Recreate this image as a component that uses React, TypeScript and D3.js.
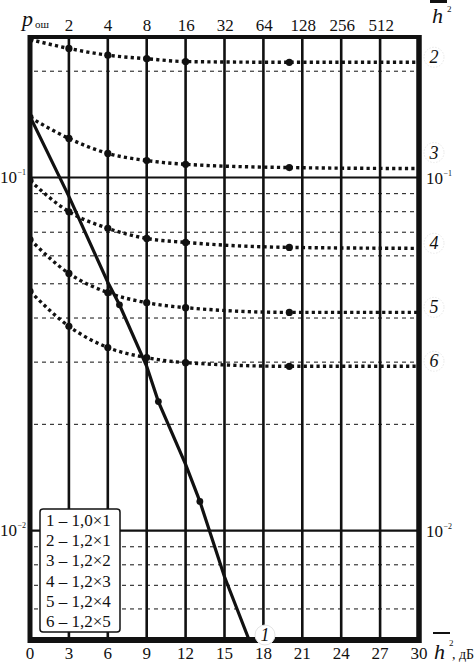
import React from "react";
import * as d3 from "d3";

const dbTicks = [0, 3, 6, 9, 12, 15, 18, 21, 24, 27, 30];
const topTicks = [2, 4, 8, 16, 32, 64, 128, 256, 512];
const majorY = [0.1, 0.01];
const minorY = [0.2, 0.09, 0.08, 0.07, 0.06, 0.05, 0.04, 0.03, 0.02, 0.009, 0.008, 0.007, 0.006];

const curveX = [0, 3, 6, 9, 12, 20, 30];
const curve2 = [0.246, 0.232, 0.222, 0.217, 0.213, 0.212, 0.212];
const curve3 = [0.148, 0.129, 0.117, 0.1117, 0.109, 0.1067, 0.106];
const curve4 = [0.098, 0.08, 0.0718, 0.0672, 0.0655, 0.0634, 0.063];
const curve5 = [0.0667, 0.0535, 0.0472, 0.0442, 0.0428, 0.0415, 0.0415];
const curve6 = [0.0476, 0.0379, 0.033, 0.0309, 0.0299, 0.0292, 0.0292];
const dottedCurves = [curve2, curve3, curve4, curve5, curve6];
const curveLabels = ["2", "3", "4", "5", "6"];

const line1X = [0, 3, 6, 6.9, 9, 9.9, 12, 13.1, 15, 16.9];
const line1Y = [0.149, 0.0884, 0.0505, 0.0436, 0.0292, 0.0232, 0.0154, 0.0121, 0.0074, 0.0049];
const line1Dots = [3, 5, 7];

const legendItems = ["1 – 1,0×1", "2 – 1,2×1", "3 – 1,2×2", "4 – 1,2×3", "5 – 1,2×4", "6 – 1,2×5"];

const W = 475;
const H = 663;
const L = 30, R = 419, T = 37, B = 640;
const tx: React.CSSProperties = { fontFamily: '"Liberation Serif"' };

export default function App() {
  const x = d3.scaleLinear().domain([0, 30]).range([L, R]);
  const y = d3.scaleLog().domain([0.0049, 0.25]).range([B, T]);

  const curveGen = d3
    .line<[number, number]>()
    .x((d) => x(d[0]))
    .y((d) => y(d[1]))
    .curve(d3.curveMonotoneX);
  const lineGen = d3
    .line<[number, number]>()
    .x((d) => x(d[0]))
    .y((d) => y(d[1]));

  const line1Data: [number, number][] = line1X.map((v, i) => [v, line1Y[i]]);

  return (
    <svg width={W} height={H} style={{ position: "absolute", left: 0, top: 0, background: "#fff" }}>
      <defs>
        <clipPath id="plot">
          <rect x={L} y={T} width={R - L} height={B - T} />
        </clipPath>
      </defs>
      <rect x={0} y={0} width={W} height={H} fill="#fff" />

      {/* minor dashed grid */}
      {minorY.map((v) => (
        <line
          key={"m" + v}
          x1={L + 4}
          x2={R - 3}
          y1={y(v)}
          y2={y(v)}
          stroke="#111"
          strokeWidth={1}
          strokeDasharray="4 4"
        />
      ))}
      {/* major horizontal lines */}
      {majorY.map((v) => (
        <line key={"M" + v} x1={L} x2={R} y1={y(v)} y2={y(v)} stroke="#111" strokeWidth={2.2} />
      ))}
      {/* vertical grid */}
      {dbTicks.slice(1, -1).map((v) => (
        <line key={"v" + v} x1={x(v)} x2={x(v)} y1={T} y2={B} stroke="#111" strokeWidth={2.6} />
      ))}

      {/* curves */}
      <g clipPath="url(#plot)">
        {dottedCurves.map((c, ci) => {
          const data: [number, number][] = curveX.map((v, i) => [v, c[i]]);
          return (
            <g key={"c" + ci}>
              <path
                d={curveGen(data) || ""}
                fill="none"
                stroke="#111"
                strokeWidth={3.4}
                strokeDasharray="3.2 3.2"
              />
              {data.slice(0, 6).map((d, i) => (
                <circle key={i} cx={x(d[0])} cy={y(d[1])} r={3.6} fill="#111" />
              ))}
            </g>
          );
        })}
        <path d={lineGen(line1Data) || ""} fill="none" stroke="#111" strokeWidth={3.2} />
        {line1Dots.map((i) => (
          <circle key={"d" + i} cx={x(line1X[i])} cy={y(line1Y[i])} r={3.4} fill="#111" />
        ))}
      </g>

      {/* frame */}
      <line x1={L} x2={L} y1={T - 2} y2={B + 3} stroke="#111" strokeWidth={5} />
      <line x1={R} x2={R} y1={T - 2} y2={B + 3} stroke="#111" strokeWidth={5.5} />
      <line x1={L - 2} x2={R + 2} y1={T} y2={T} stroke="#111" strokeWidth={4} />
      <line x1={L - 2} x2={R + 2} y1={B} y2={B} stroke="#111" strokeWidth={6} />

      {/* legend */}
      <rect x={40} y={509} width={80} height={123} rx={3} fill="#fff" stroke="#111" strokeWidth={1.5} />
      {legendItems.map((t, i) => (
        <text key={t} x={46} y={526 + i * 20.2} fontSize={17} fill="#111" style={tx}>
          {t}
        </text>
      ))}

      {/* label 1 */}
      <circle cx={265} cy={635} r={10} fill="#fff" stroke="#e4e4e4" strokeWidth={1} />
      <text x={265} y={641} fontSize={18} fontStyle="italic" textAnchor="middle" fill="#111" style={tx}>
        1
      </text>

      {/* right curve labels */}
      {dottedCurves.map((c, i) => {
        const base = y(c[c.length - 1]) + (i === 1 ? -10 : 1);
        return (
          <g key={"lab" + i}>
            <circle cx={434} cy={base - 6} r={10} fill="none" stroke="#e8e8e8" strokeDasharray="1.5 1.5" />
            <text x={434} y={base} fontSize={18} fontStyle="italic" textAnchor="middle" fill="#111" style={tx}>
              {curveLabels[i]}
            </text>
          </g>
        );
      })}

      {/* bottom tick labels */}
      {dbTicks.map((v) => (
        <text key={"b" + v} x={x(v)} y={659} fontSize={17} textAnchor="middle" fill="#111" style={tx}>
          {v}
        </text>
      ))}
      {/* top tick labels */}
      {topTicks.map((v) => (
        <text key={"t" + v} x={x(10 * Math.log10(v))} y={31} fontSize={17} textAnchor="middle" fill="#111" style={tx}>
          {v}
        </text>
      ))}

      {/* y labels, both sides */}
      {majorY.map((v, i) => (
        <g key={"yl" + v}>
          <text x={0} y={y(v) + 5} fontSize={17} fill="#111" style={tx}>
            10
          </text>
          <text x={17.5} y={y(v) - 3} fontSize={8} fill="#111" style={tx}>
            {"−" + (i + 1)}
          </text>
          <text x={426} y={y(v) + 6} fontSize={17} fill="#111" style={tx}>
            10
          </text>
          <text x={443.5} y={y(v) - 2} fontSize={8} fill="#111" style={tx}>
            {"−" + (i + 1)}
          </text>
        </g>
      ))}

      {/* p_ош */}
      <text x={22} y={26} fontSize={22} fontStyle="italic" fill="#111" style={tx}>
        p
      </text>
      <text x={35} y={28} fontSize={11} fill="#111" style={tx}>
        ош
      </text>

      {/* top-right h² */}
      <line x1={430} x2={447} y1={1.5} y2={1.5} stroke="#111" strokeWidth={3} />
      <text x={432} y={23} fontSize={22} fontStyle="italic" fill="#111" style={tx}>
        h
      </text>
      <text x={447} y={12} fontSize={9} fill="#111" style={tx}>
        2
      </text>

      {/* bottom-right h², дБ */}
      <line x1={433} x2={450} y1={633} y2={633} stroke="#111" strokeWidth={2} />
      <text x={434} y={659} fontSize={22} fontStyle="italic" fill="#111" style={tx}>
        h
      </text>
      <text x={449} y={646} fontSize={9} fill="#111" style={tx}>
        2
      </text>
      <text x={452} y={659} fontSize={14} fill="#111" style={tx}>
        , дБ
      </text>
    </svg>
  );
}
